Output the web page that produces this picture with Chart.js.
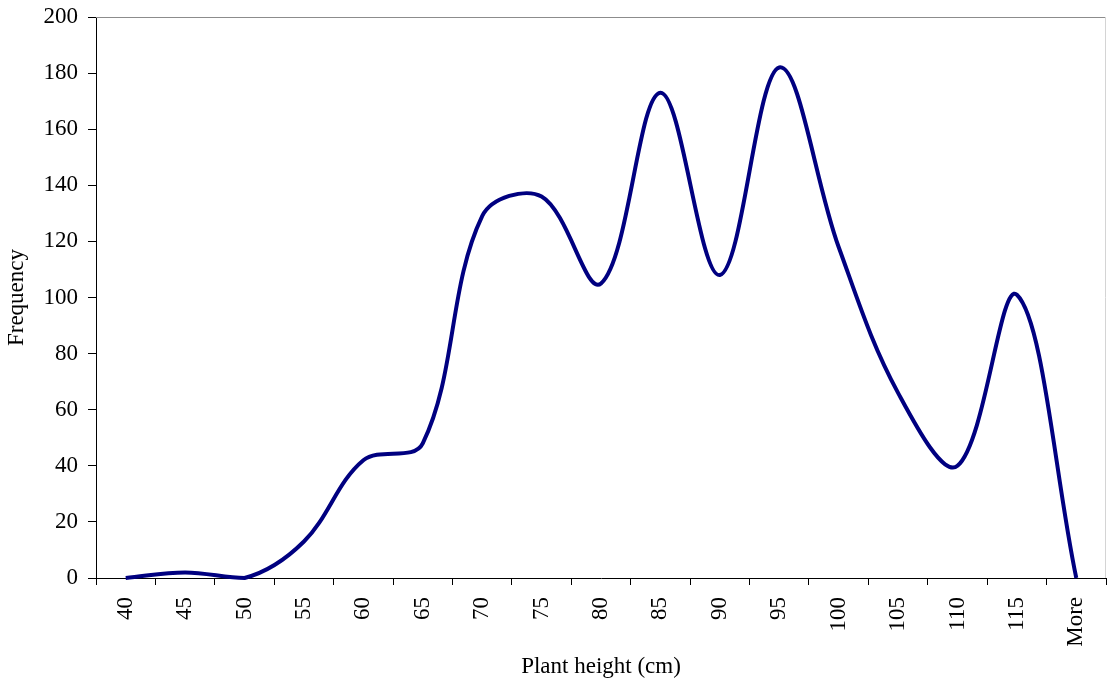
<!DOCTYPE html>
<html>
<head>
<meta charset="utf-8">
<title>Plant height frequency</title>
<script src="https://cdn.jsdelivr.net/npm/chart.js@4/dist/chart.umd.min.js"></script>
<style>
  html, body { margin: 0; padding: 0; background: #ffffff; }
  #wrap { width: 1107px; height: 689px; }
</style>
</head>
<body>
<div id="wrap"><canvas id="chart" width="1107" height="689"></canvas></div>
<script>
// Height classes (cm) and how many plants fell into each
const heightClasses = ['40', '45', '50', '55', '60', '65', '70', '75', '80', '85',
                       '90', '95', '100', '105', '110', '115', 'More'];
const frequency = [0, 2, 0, 13, 42, 48, 129, 136, 105, 173,
                   108, 182, 118, 66, 40, 101, 0];
const yMin = 0;
const yMax = 200;
const yStep = 20;

const FONT = 'Liberation Serif, Times New Roman, serif';

// keep the plot area where the layout padding puts it
function noLabelPadding(scale) {
  scale.paddingTop = 0;
  scale.paddingBottom = 0;
  scale.paddingLeft = 0;
  scale.paddingRight = 0;
}

// thin frame along the top and right of the plot area
const frameLines = {
  id: 'frameLines',
  afterDatasetsDraw(chart) {
    const { ctx, chartArea: a } = chart;
    ctx.save();
    ctx.lineWidth = 1;
    ctx.strokeStyle = '#8c8c8c';
    ctx.beginPath();
    ctx.moveTo(a.left, a.top + 0.5);
    ctx.lineTo(a.right, a.top + 0.5);
    ctx.stroke();
    ctx.strokeStyle = '#d4d4d4';
    ctx.beginPath();
    ctx.moveTo(a.right - 0.5, a.top);
    ctx.lineTo(a.right - 0.5, a.bottom);
    ctx.stroke();
    ctx.restore();
  }
};

new Chart(document.getElementById('chart'), {
  type: 'line',
  data: {
    labels: heightClasses,
    datasets: [{
      data: frequency,
      borderColor: '#000080',
      borderWidth: 4,
      pointRadius: 0,
      pointHoverRadius: 0,
      fill: false,
      tension: 0.36,
      clip: 4
    }]
  },
  options: {
    responsive: false,
    animation: false,
    devicePixelRatio: 1,
    layout: { padding: { top: 17, right: 1, left: 0, bottom: 0 } },
    plugins: {
      legend: { display: false },
      tooltip: { enabled: false }
    },
    scales: {
      x: {
        type: 'category',
        offset: true,
        afterFit(scale) { scale.height = 111; noLabelPadding(scale); },
        grid: {
          offset: true,
          drawOnChartArea: false,
          drawTicks: true,
          tickLength: 7,
          color: '#000000'
        },
        border: { color: '#000000', width: 1 },
        ticks: {
          autoSkip: false,
          maxRotation: 90,
          minRotation: 90,
          padding: 12,
          color: '#000000',
          font: { family: FONT, size: 23 }
        },
        title: {
          display: true,
          text: 'Plant height (cm)',
          color: '#000000',
          font: { family: FONT, size: 23 },
          padding: { top: 0, bottom: 8 }
        }
      },
      y: {
        min: yMin,
        max: yMax,
        afterFit(scale) { scale.width = 96; noLabelPadding(scale); },
        grid: {
          drawOnChartArea: false,
          drawTicks: true,
          tickLength: 8,
          color: '#000000'
        },
        border: { color: '#000000', width: 1 },
        ticks: {
          stepSize: yStep,
          padding: 10,
          color: '#000000',
          font: { family: FONT, size: 23 }
        },
        title: {
          display: true,
          text: 'Frequency',
          color: '#000000',
          font: { family: FONT, size: 23 },
          padding: { top: 3, bottom: 0 }
        }
      }
    }
  },
  plugins: [frameLines]
});
</script>
</body>
</html>
